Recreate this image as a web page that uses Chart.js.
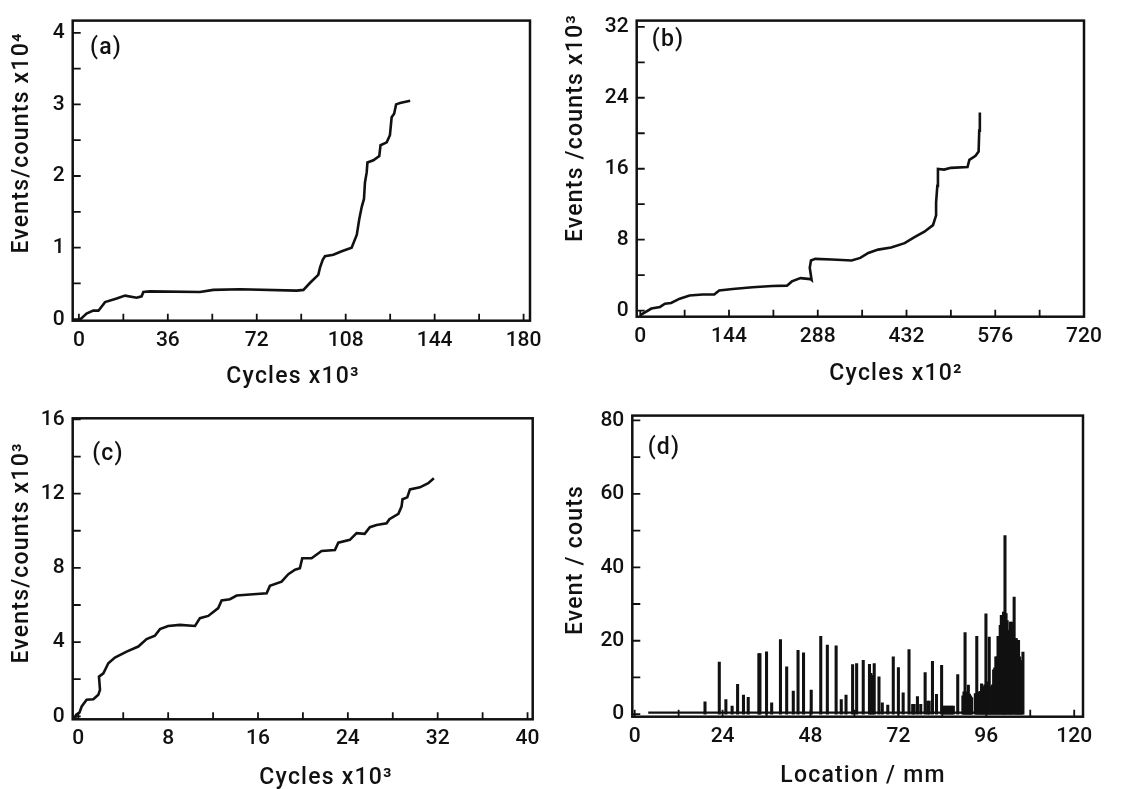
<!DOCTYPE html>
<html>
<head>
<meta charset="utf-8">
<script src="https://cdn.jsdelivr.net/npm/chart.js@4.4.1/dist/chart.umd.min.js"></script>
<style>
  body { margin: 0; background: #fff; width: 1121px; height: 789px; position: relative; overflow: hidden; }
  canvas { position: absolute; }
  .t { position: absolute; font-family: Roboto, "DejaVu Sans", sans-serif; font-size: 23px; font-weight: 500; letter-spacing: 1.2px; color: #111; white-space: nowrap; }
  .h { transform: translate(-50%, -50%); }
  .r { transform: translate(-50%, -50%) rotate(-90deg); }
</style>
</head>
<body>
<canvas id="pa" width="560" height="395" style="left:0;top:0"></canvas>
<canvas id="pb" width="561" height="395" style="left:560px;top:0"></canvas>
<canvas id="pc" width="560" height="394" style="left:0;top:395px"></canvas>
<canvas id="pd" width="561" height="394" style="left:560px;top:395px"></canvas>

<div class="t h" style="left:106px;top:46px">(a)</div>
<div class="t r" style="left:20px;top:143px">Events/counts x10⁴</div>
<div class="t h" style="left:293px;top:375px">Cycles x10³</div>

<div class="t h" style="left:668px;top:38px">(b)</div>
<div class="t r" style="left:574px;top:128px">Events /counts x10³</div>
<div class="t h" style="left:896px;top:372px">Cycles x10²</div>

<div class="t h" style="left:108px;top:452px">(c)</div>
<div class="t r" style="left:20px;top:553px">Events/counts x10³</div>
<div class="t h" style="left:326px;top:776px">Cycles x10³</div>

<div class="t h" style="left:664px;top:446px">(d)</div>
<div class="t r" style="left:574px;top:560px">Event / couts</div>
<div class="t h" style="left:863px;top:774px">Location / mm</div>

<script>
// (a) cumulative events, x10^4, vs cycles x10^3
const aCycles = [0, 3.1, 5.8, 7.9, 10.6, 15.3, 18.7, 23.4, 25.4, 26.1, 28.8, 49, 54.4, 65.2, 88.2, 90.9, 93.6, 96.9, 97.6, 98.7,
  99.6, 103, 106.4, 110.4, 112.5, 113.5, 114.5, 115.4, 115.8, 116.5, 116.8, 119.2, 121.6, 122.1, 124.6, 125.9, 126.6, 127.6, 128.4, 130, 134.1];
const aEvents = [-0.02, 0.08, 0.12, 0.12, 0.24, 0.29, 0.33, 0.3, 0.32, 0.38, 0.39, 0.38, 0.41, 0.42, 0.4, 0.41, 0.51, 0.62, 0.72, 0.83,
  0.88, 0.9, 0.95, 1.0, 1.18, 1.4, 1.57, 1.68, 1.91, 2.05, 2.19, 2.22, 2.28, 2.43, 2.47, 2.57, 2.82, 2.87, 3.0, 3.02, 3.05];
const aXTicks = [0, 18, 36, 54, 72, 90, 108, 126, 144, 162, 180];
const aXLabels = ['0', '', '36', '', '72', '', '108', '', '144', '', '180'];
const aYTicks = [0, 0.5, 1, 1.5, 2, 2.5, 3, 3.5, 4];
const aYLabels = ['0', '', '1', '', '2', '', '3', '', '4'];

// (b) cumulative events, x10^3, vs cycles x10^2
const bCycles = [0, 18, 32, 40, 50, 64, 80, 101, 120, 128, 150, 182, 214, 238, 246, 260, 276, 278, 275, 277,
  284, 311, 343, 357, 370, 386, 407, 429, 445, 461, 475, 480, 480, 482, 483, 493, 504, 531, 534, 544, 549, 550, 551];
const bEvents = [-0.5, 0.24, 0.42, 0.79, 0.87, 1.35, 1.71, 1.82, 1.82, 2.27, 2.45, 2.64, 2.78, 2.82, 3.3, 3.67, 3.56, 3.45, 4.85, 5.66,
  5.84, 5.77, 5.66, 5.95, 6.51, 6.88, 7.13, 7.61, 8.28, 8.9, 9.64, 10.75, 12.2, 14.07, 15.98, 15.9, 16.1, 16.2, 17.0, 17.46, 17.94, 20.3, 22.35];
const bXTicks = [0, 72, 144, 216, 288, 360, 432, 504, 576, 648, 720];
const bXLabels = ['0', '', '144', '', '288', '', '432', '', '576', '', '720'];
const bYTicks = [0, 4, 8, 12, 16, 20, 24, 28, 32];
const bYLabels = ['0', '', '8', '', '16', '', '24', '', '32'];

// (c) cumulative events, x10^3, vs cycles x10^3
const cCycles = [-0.3, -0.2, 0.1, 0.3, 0.74, 1.34, 1.78, 1.93, 1.84, 2.23, 2.67, 3.26, 4.3, 5.34, 6.08, 6.82, 7.27, 8.0, 9.05, 10.39,
  10.83, 11.57, 12.46, 12.76, 13.5, 14.1, 15.58, 16.77, 17.06, 18.1, 18.7, 19.3, 19.73, 19.94, 20.77, 21.66, 22.85, 23.15, 24.18, 24.78,
  25.5, 25.96, 26.56, 27.45, 27.7, 28.5, 28.78, 28.87, 29.29, 29.53, 30.42, 31.16, 31.66];
const cEvents = [-0.16, 0.08, 0.2, 0.53, 0.89, 0.92, 1.16, 1.43, 2.14, 2.32, 2.86, 3.17, 3.49, 3.76, 4.16, 4.34, 4.7, 4.87, 4.93, 4.87,
  5.29, 5.41, 5.83, 6.24, 6.31, 6.51, 6.58, 6.63, 7.03, 7.26, 7.66, 7.9, 7.98, 8.52, 8.52, 8.91, 8.96, 9.36, 9.51, 9.87,
  9.83, 10.19, 10.31, 10.4, 10.62, 10.91, 11.3, 11.7, 11.8, 12.23, 12.34, 12.56, 12.83];
const cXTicks = [0, 4, 8, 12, 16, 20, 24, 28, 32, 36, 40];
const cXLabels = ['0', '', '8', '', '16', '', '24', '', '32', '', '40'];
const cYTicks = [0, 2, 4, 6, 8, 10, 12, 14, 16];
const cYLabels = ['0', '', '4', '', '8', '', '12', '', '16'];

// (d) event counts vs location (mm)
const dLocation = [19.2, 23.1, 24.9, 26.6, 28.1, 29.7, 31.0, 33.9, 34.2, 36.0, 37.4, 39.8, 41.5, 43.3, 44.6, 46.1, 48.2, 50.8, 52.6, 55.0,
  56.4, 57.7, 59.5, 60.6, 62.4, 64.1, 64.5, 65.0, 65.4, 66.7, 67.6, 69.1, 70.6, 72.0, 73.3, 74.9, 75.9, 76.3, 77.2, 78.1,
  79.3, 80.0, 80.4, 81.3, 82.4, 83.8, 84.3, 84.7, 85.2, 85.6, 86.1, 86.5, 87.0, 88.2,
  89.6, 89.9, 90.2, 90.5, 90.8, 91.1, 91.4, 91.7, 92.0,
  93.0, 93.4, 93.7, 94.0, 94.4, 94.7, 95.0, 95.3, 95.6, 95.9, 96.2, 96.5, 96.8, 97.1, 97.4, 97.7, 98.0, 98.3, 98.6, 98.9,
  99.2, 99.5, 99.8, 100.1, 100.4, 100.7, 101.0, 101.1, 101.4, 101.7, 102.0, 102.3, 102.6, 102.9, 103.2, 103.6, 103.9, 104.2,
  104.5, 104.8, 105.1, 105.4, 105.7, 106.0];
const dCounts = [3.4, 14.2, 4.0, 2.2, 8.1, 5.2, 4.6, 16.5, 16.5, 17, 3.1, 20.3, 12.9, 6.3, 17.4, 16.7, 6.6, 21.2, 18.8, 18.6,
  4.0, 5.2, 13.5, 13.8, 14.7, 13.6, 11.1, 10.6, 13.8, 10.2, 3.1, 2.5, 15.6, 12.7, 5.8, 17.6, 2.7, 2.7, 4.8, 2.7,
  11.3, 3.6, 3.6, 14.4, 5.4, 13.3, 2.2, 2.2, 2.2, 2.2, 2.2, 2.2, 2.2, 10.8,
  5, 6.1, 22.2, 6.1, 5.5, 7.9, 5.5, 5, 4.5,
  5.6, 21.2, 6, 6, 6.2, 8.3, 6.5, 7.5, 8, 27.3, 8.8, 8, 21, 7.5, 6.7, 8, 12.1, 12.6, 15.6, 15.6,
  21.2, 21.2, 24.2, 26.9, 26.9, 27.8, 27.8, 48.6, 27.4, 25.5, 22.8, 22.8, 25.1, 25.1, 25, 31.9, 20.6, 20.6,
  20.1, 20.1, 15.6, 14.5, 14.5, 16.9];
const dBaseX = [3.7, 106];
const dBaseY = [0.45, 0.45];
const dXTicks = [0, 12, 24, 36, 48, 60, 72, 84, 96, 108, 120];
const dXLabels = ['0', '', '24', '', '48', '', '72', '', '96', '', '120'];
const dYTicks = [0, 10, 20, 30, 40, 50, 60, 70, 80];
const dYLabels = ['0', '', '20', '', '40', '', '60', '', '80'];

const ink = '#111';
const tickFont = { family: 'Roboto, "DejaVu Sans", sans-serif', size: 21, weight: '500' };

// frame + inward tick marks
const frameTicks = {
  id: 'frameTicks',
  afterDatasetsDraw(chart) {
    const { ctx, chartArea: a, scales: { x, y } } = chart;
    ctx.save();
    ctx.strokeStyle = ink;
    ctx.lineWidth = 1.8;
    ctx.beginPath();
    x.ticks.forEach(t => {
      const p = x.getPixelForValue(t.value);
      ctx.moveTo(p, a.bottom);
      ctx.lineTo(p, a.bottom - 7);
    });
    y.ticks.forEach(t => {
      const p = y.getPixelForValue(t.value);
      ctx.moveTo(a.left, p);
      ctx.lineTo(a.left + 8, p);
    });
    ctx.stroke();
    ctx.lineWidth = 2.5;
    ctx.strokeRect(a.left, a.top, a.right - a.left, a.bottom - a.top);
    ctx.restore();
  }
};

function pts(xs, ys) {
  return xs.map((v, i) => ({ x: v, y: ys[i] }));
}

function makePanel(id, datasets, p) {
  return new Chart(document.getElementById(id), {
    type: 'bar',
    data: { datasets: datasets },
    options: {
      responsive: false,
      animation: false,
      devicePixelRatio: 1,
      layout: { padding: { top: p.padTop, right: p.padRight, left: 0, bottom: 0 } },
      plugins: { legend: { display: false }, tooltip: { enabled: false } },
      scales: {
        x: {
          type: 'linear', offset: false, min: p.xMin, max: p.xMax,
          grid: { display: false, drawTicks: false }, border: { display: false },
          afterBuildTicks: s => { s.ticks = p.xTicks.map(v => ({ value: v })); },
          afterFit: s => { s.height = p.xAxisH; },
          ticks: { autoSkip: false, maxRotation: 0, padding: 7, color: ink, font: tickFont,
                   callback: (v, i) => p.xLabels[i] }
        },
        y: {
          type: 'linear', min: p.yMin, max: p.yMax, beginAtZero: false,
          grid: { display: false, drawTicks: false }, border: { display: false },
          afterBuildTicks: s => { s.ticks = p.yTicks.map(v => ({ value: v })); },
          afterFit: s => { s.width = p.yAxisW; },
          ticks: { autoSkip: false, padding: 8, color: ink, font: tickFont,
                   callback: (v, i) => p.yLabels[i] }
        }
      }
    },
    plugins: [frameTicks]
  });
}

function curve(xs, ys) {
  return { type: 'line', data: pts(xs, ys), borderColor: ink, borderWidth: 2.6,
           pointRadius: 0, tension: 0, fill: false };
}

makePanel('pa', [curve(aCycles, aEvents)], {
  xMin: -2.5, xMax: 182.6, yMin: -0.02, yMax: 4.17,
  xTicks: aXTicks, xLabels: aXLabels, yTicks: aYTicks, yLabels: aYLabels,
  padTop: 15, padRight: 30, yAxisW: 72.7, xAxisH: 74.3
});

makePanel('pb', [curve(bCycles, bEvents)], {
  xMin: -5.8, xMax: 720, yMin: -0.68, yMax: 32.7,
  xTicks: bXTicks, xLabels: bXLabels, yTicks: bYTicks, yLabels: bYLabels,
  padTop: 15, padRight: 37, yAxisW: 76.7, xAxisH: 78.3
});

makePanel('pc', [curve(cCycles, cEvents)], {
  xMin: -0.5, xMax: 40.46, yMin: -0.16, yMax: 16.06,
  xTicks: cXTicks, xLabels: cXLabels, yTicks: cYTicks, yLabels: cYLabels,
  padTop: 23.3, padRight: 27.3, yAxisW: 72.7, xAxisH: 69.7
});

makePanel('pd', [
  { type: 'line', data: pts(dBaseX, dBaseY), borderColor: ink, borderWidth: 2.2, pointRadius: 0, tension: 0 },
  { type: 'bar', data: pts(dLocation, dCounts), backgroundColor: ink, barThickness: 2.4, borderWidth: 0 }
], {
  xMin: -0.65, xMax: 122.4, yMin: -0.68, yMax: 81.3,
  xTicks: dXTicks, xLabels: dXLabels, yTicks: dYTicks, yLabels: dYLabels,
  padTop: 19.3, padRight: 38, yAxisW: 72.3, xAxisH: 72.3
});
</script>
</body>
</html>
